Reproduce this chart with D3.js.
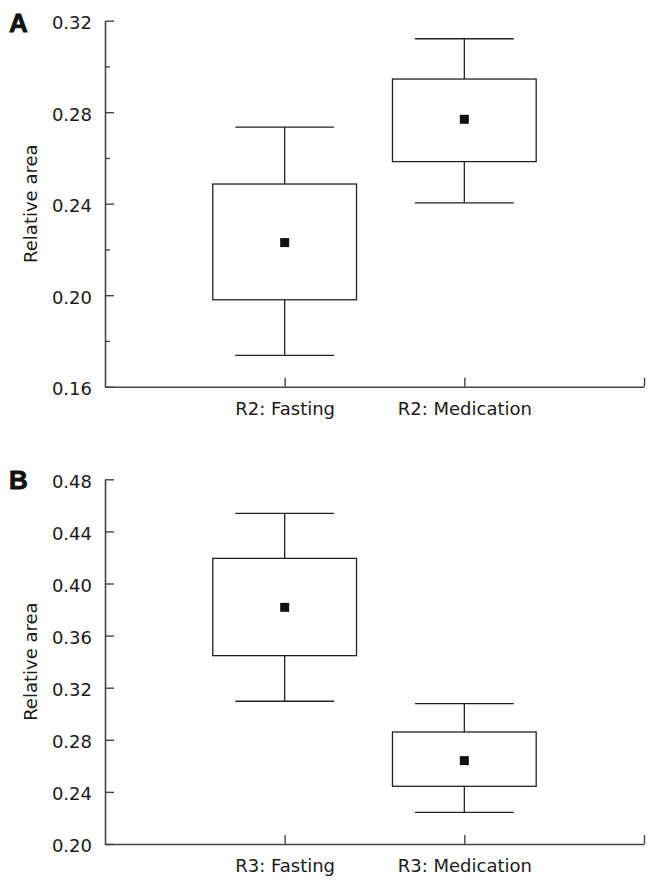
<!DOCTYPE html>
<html>
<head>
<meta charset="utf-8">
<script src="https://cdn.jsdelivr.net/npm/d3@7"></script>
<style>
  html, body { margin: 0; padding: 0; background: #fff; }
  svg { display: block; }
</style>
</head>
<body>
<svg id="chart" width="659" height="886"></svg>
<script>
// ---- Data ----
const categoriesA  = ["R2: Fasting", "R2: Medication"];
const whiskerLowA  = [0.1737, 0.2404];
const q1A          = [0.1980, 0.2584];
const meanA        = [0.2230, 0.2769];
const q3A          = [0.2486, 0.2945];
const whiskerHighA = [0.2735, 0.3121];
const yTicksA      = [0.16, 0.20, 0.24, 0.28, 0.32];
const yMinorTicksA = [0.18, 0.22, 0.26, 0.30];

const categoriesB  = ["R3: Fasting", "R3: Medication"];
const whiskerLowB  = [0.3096, 0.2243];
const q1B          = [0.3446, 0.2443];
const meanB        = [0.3817, 0.2640];
const q3B          = [0.4193, 0.2860];
const whiskerHighB = [0.4539, 0.3077];
const yTicksB      = [0.20, 0.24, 0.28, 0.32, 0.36, 0.40, 0.44, 0.48];

const svg = d3.select("#chart");
const FONT = "'DejaVu Sans', Verdana, sans-serif";
const FS = 18;

const x = d3.scaleLinear().domain([0, 3]).range([105, 644]);

function panel(opts) {
  const { letter, letterY, yDomain, yRange, yTicks, minorTicks, cats,
          lo, q1, mean, q3, hi } = opts;
  const y = d3.scaleLinear().domain(yDomain).range(yRange);
  const g = svg.append("g");

  if (minorTicks) {
    const minor = g.append("g")
      .attr("transform", `translate(${x(0)},0)`)
      .call(d3.axisLeft(y).tickValues(minorTicks).tickSize(-5).tickFormat(""));
    minor.select(".domain").remove();
    minor.selectAll("line").attr("stroke", "#444").attr("stroke-width", 1.4);
  }

  const ya = g.append("g")
    .attr("transform", `translate(${x(0)},0)`)
    .call(d3.axisLeft(y).tickValues(yTicks).tickSizeInner(-9).tickSizeOuter(0)
      .tickPadding(13).tickFormat(d3.format(".2f")));
  ya.select(".domain").attr("stroke", "#444").attr("stroke-width", 1.6);
  ya.selectAll("line").attr("stroke", "#444").attr("stroke-width", 1.4);
  ya.selectAll("text").attr("font-family", FONT).attr("font-size", FS)
    .attr("fill", "#1a1a1a").attr("dy", "0.44em");

  const xa = g.append("g")
    .attr("transform", `translate(0,${yRange[0]})`)
    .call(d3.axisBottom(x).tickValues([1, 2, 3]).tickSizeInner(-9).tickSizeOuter(0)
      .tickPadding(15.5).tickFormat(d => d <= cats.length ? cats[d - 1] : ""));
  xa.select(".domain").attr("stroke", "#444").attr("stroke-width", 1.6);
  xa.selectAll("line").attr("stroke", "#444").attr("stroke-width", 1.4);
  xa.selectAll("text").attr("font-family", FONT).attr("font-size", FS)
    .attr("fill", "#1a1a1a");

  g.append("text")
    .attr("transform", `translate(37,${(yRange[0] + yRange[1]) / 2}) rotate(-90)`)
    .attr("text-anchor", "middle")
    .attr("font-family", FONT).attr("font-size", FS).attr("fill", "#1a1a1a")
    .text("Relative area");

  g.append("text")
    .attr("x", 9).attr("y", letterY)
    .attr("font-family", "'Liberation Sans', Arial, sans-serif")
    .attr("font-weight", "bold").attr("font-size", 26).attr("fill", "#111")
    .attr("stroke", "#111").attr("stroke-width", 0.8)
    .text(letter);

  const boxes = g.append("g").attr("stroke", "#222").attr("stroke-width", 1.3).attr("fill", "none");
  const boxHalf = 0.4, capHalf = 0.275;
  d3.range(cats.length).forEach(i => {
    const cx = i + 1;
    boxes.append("line").attr("x1", x(cx)).attr("x2", x(cx)).attr("y1", y(hi[i])).attr("y2", y(q3[i]));
    boxes.append("line").attr("x1", x(cx)).attr("x2", x(cx)).attr("y1", y(q1[i])).attr("y2", y(lo[i]));
    boxes.append("line").attr("x1", x(cx - capHalf)).attr("x2", x(cx + capHalf)).attr("y1", y(hi[i])).attr("y2", y(hi[i]));
    boxes.append("line").attr("x1", x(cx - capHalf)).attr("x2", x(cx + capHalf)).attr("y1", y(lo[i])).attr("y2", y(lo[i]));
    boxes.append("rect")
      .attr("x", x(cx - boxHalf)).attr("width", x(cx + boxHalf) - x(cx - boxHalf))
      .attr("y", y(q3[i])).attr("height", y(q1[i]) - y(q3[i]));
    g.append("rect")
      .attr("x", x(cx) - 4.5).attr("y", y(mean[i]) - 4.5)
      .attr("width", 9).attr("height", 9).attr("fill", "#111");
  });
}

panel({
  letter: "A", letterY: 32,
  yDomain: [0.16, 0.32], yRange: [386.7, 20.7],
  yTicks: yTicksA, minorTicks: yMinorTicksA, cats: categoriesA,
  lo: whiskerLowA, q1: q1A, mean: meanA, q3: q3A, hi: whiskerHighA
});

panel({
  letter: "B", letterY: 489,
  yDomain: [0.20, 0.48], yRange: [844, 479.3],
  yTicks: yTicksB, minorTicks: null, cats: categoriesB,
  lo: whiskerLowB, q1: q1B, mean: meanB, q3: q3B, hi: whiskerHighB
});
</script>
</body>
</html>
